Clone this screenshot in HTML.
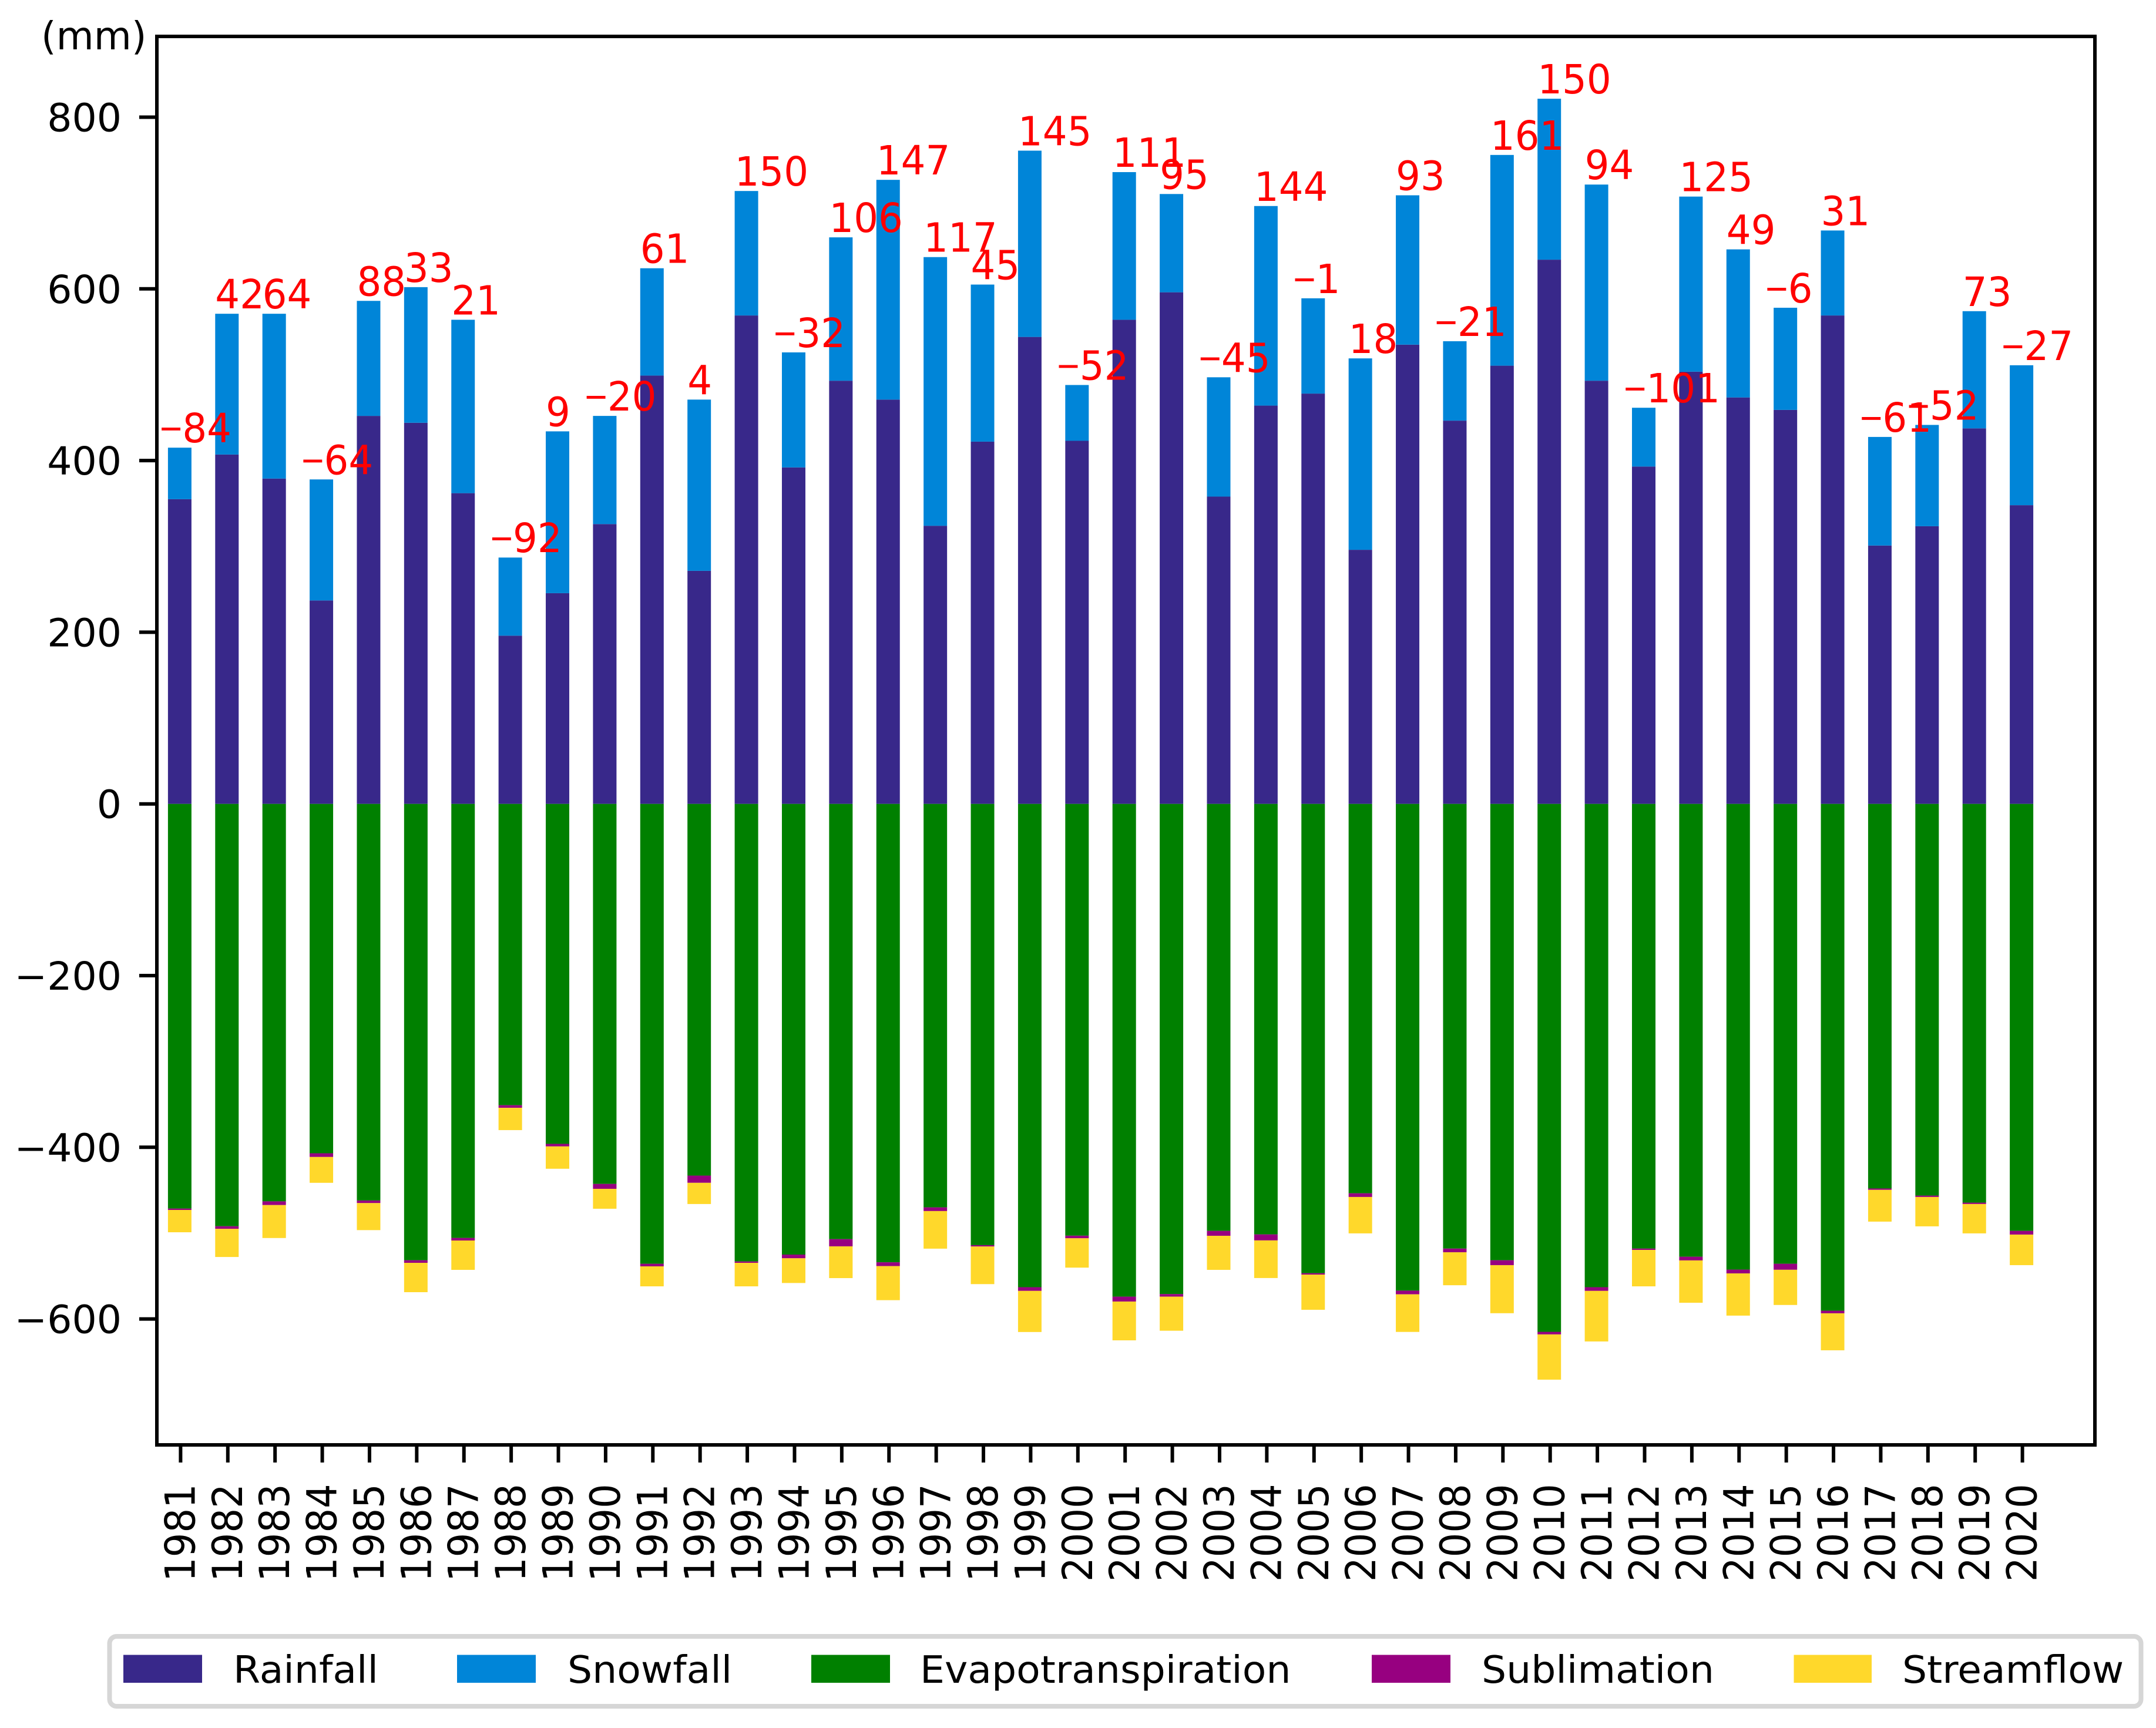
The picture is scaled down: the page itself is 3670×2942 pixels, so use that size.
<!DOCTYPE html>
<html lang="en">
<head>
<meta charset="utf-8">
<title>Annual water balance 1981-2020</title>
<style>
html,body{margin:0;padding:0;background:#fff;}
svg{display:block;}
text{font-family:"DejaVu Sans","Liberation Sans",sans-serif;}
</style>
</head>
<body>
<svg id="chart" xmlns="http://www.w3.org/2000/svg" width="3670" height="2942" viewBox="0 0 3670 2942">
  <rect x="0" y="0" width="3670" height="2942" fill="#ffffff"/>
  <g id="bars"></g>
  <g id="labels"></g>
  <g id="axes">
    <rect x="267" y="62" width="3299" height="2398" fill="none" stroke="#000" stroke-width="6"/>
    <text transform="translate(70,84) scale(1.02,1.02)" font-size="64.5" fill="#000">(mm)</text>
  </g>
  <g id="legend">
    <rect x="186.5" y="2786" width="3458" height="119" rx="12" ry="12" fill="#ffffff" stroke="#d6d6d6" stroke-width="8"/>
    <g>
      <rect x="210" y="2817.5" width="134" height="47.5" fill="#38288a"/>
      <text transform="translate(397,2865) scale(1.03,1)" font-size="64.5" fill="#000">Rainfall</text>
    </g>
    <g>
      <rect x="778" y="2817.5" width="134" height="47.5" fill="#0085d8"/>
      <text transform="translate(966,2865) scale(1.03,1)" font-size="64.5" fill="#000">Snowfall</text>
    </g>
    <g>
      <rect x="1381" y="2817.5" width="134" height="47.5" fill="#008000"/>
      <text transform="translate(1566,2865) scale(1.03,1)" font-size="64.5" fill="#000">Evapotranspiration</text>
    </g>
    <g>
      <rect x="2335" y="2817.5" width="134" height="47.5" fill="#970080"/>
      <text transform="translate(2522,2865) scale(1.03,1)" font-size="64.5" fill="#000">Sublimation</text>
    </g>
    <g>
      <rect x="3053.5" y="2817.5" width="132.5" height="47.5" fill="#ffd82b"/>
      <text transform="translate(3238,2865) scale(1.03,1)" font-size="64.5" fill="#000">Streamflow</text>
    </g>
  </g>
</svg>
<script>
const years = [1981,1982,1983,1984,1985,1986,1987,1988,1989,1990,1991,1992,1993,1994,1995,1996,1997,1998,1999,2000,2001,2002,2003,2004,2005,2006,2007,2008,2009,2010,2011,2012,2013,2014,2015,2016,2017,2018,2019,2020];
const rainfall = [355,407,379,237,452,444,362,196,245.5,326,499,271.5,569,392,493,471,324,422,544,423,564,596,358,464,478,296,535,446.5,510.5,634,493,393,503.5,473.5,459,569,301,323.5,437.5,348];
const snowfall = [60,164,192,141,134,158,202,91,188.5,126,125,199.5,145,134,167,256,313,183,217,65,172,114.5,139,232.5,111,223,174,92.5,245.5,187.5,228.5,68.5,204,172.5,119,99,126.5,118,136.5,163];
const evapotranspiration = [-471.4,-492,-463,-407,-462,-531.6,-505.6,-351,-396,-442.7,-535.7,-433,-533,-525,-507,-534,-470,-514,-563,-503,-574,-571,-497.4,-501.5,-546.7,-453.6,-567,-518,-531.6,-615,-563,-518,-527.5,-542.5,-535.7,-590.4,-448,-456.3,-464.5,-497.4];
const sublimation = [-1.6,-3,-4.3,-4.3,-3,-3,-3,-3,-3,-5.7,-3,-8.4,-1.6,-4.3,-8.4,-4.4,-4.3,-1.6,-4.3,-3,-5.7,-3,-5.7,-7,-1.6,-4.3,-4.3,-4.3,-5.7,-3,-4.3,-1.6,-4.3,-4.4,-7,-3,-1.6,-1.6,-1.6,-4.3];
const streamflow = [-26,-32.8,-38.4,-30.1,-31.5,-34.2,-34.2,-26,-26,-23.2,-23.3,-24.7,-27.4,-28.8,-37,-39.7,-43.8,-43.8,-47.9,-34.2,-45.2,-39.7,-39.7,-43.8,-41,-42.4,-43.8,-38.4,-56,-52.7,-58.9,-42.4,-49.3,-49.2,-41,-43.1,-37,-34.2,-34.2,-35.6];
const balance = [-84,42,64,-64,88,33,21,-92,9,-20,61,4,150,-32,106,147,117,45,145,-52,111,95,-45,144,-1,18,93,-21,161,150,94,-101,125,49,-6,31,-61,-52,73,-27];
const yTickValues = [800,600,400,200,0,-200,-400,-600];

const NS = 'http://www.w3.org/2000/svg';
function xScale(i){ return 307.4 + 80.39 * i; }
function yScale(v){ return 1368.7 - 1.4615 * v; }
function fmt(v){ return v < 0 ? '\u2212' + Math.abs(v) : String(v); }
function make(tag, parent, attrs){
  const el = document.createElementNS(NS, tag);
  for (const k in attrs) el.setAttribute(k, attrs[k]);
  parent.appendChild(el);
  return el;
}
const barsG = document.getElementById('bars');
const labelsG = document.getElementById('labels');
const axesG = document.getElementById('axes');
const BAR_W = 40;
const FRAME_BOTTOM = 2460;
const FRAME_LEFT = 267;

function drawSegment(i, from, to, color, seriesName){
  const top = Math.min(yScale(from), yScale(to));
  const h = Math.abs(yScale(from) - yScale(to));
  const r = make('rect', barsG, {x: xScale(i) - 1.5 - BAR_W / 2, y: top, width: BAR_W, height: h, fill: color});
  
  
}

years.forEach(function(year, i){
  const rain = rainfall[i];
  const total = rain + snowfall[i];
  drawSegment(i, 0, rain, '#38288a', 'rainfall');
  drawSegment(i, rain, total, '#0085d8', 'snowfall');
  const e = evapotranspiration[i];
  const s = e + sublimation[i];
  const q = s + streamflow[i];
  drawSegment(i, 0, e, '#008000', 'evapotranspiration');
  drawSegment(i, e, s, '#970080', 'sublimation');
  drawSegment(i, s, q, '#ffd82b', 'streamflow');

  const barLeft = xScale(i) - 1.5 - BAR_W / 2;
  const lx = balance[i] < 0 ? barLeft - 14 : barLeft;
  const ly = yScale(total) - 9;
  const label = make('text', labelsG, {transform: 'translate(' + lx + ',' + ly + ') scale(1.02,1.06)', 'font-size': 64.5, fill: '#ff0000'});
  if (balance[i] < 0) {
    const minus = make('tspan', label, {'font-family': '"Liberation Sans", sans-serif'});
    minus.textContent = '\u2212';
  }
  const digits = make('tspan', label, {});
  digits.textContent = String(Math.abs(balance[i]));
  
  

  const tick = make('line', axesG, {x1: xScale(i), x2: xScale(i), y1: FRAME_BOTTOM, y2: FRAME_BOTTOM + 30, stroke: '#000', 'stroke-width': 6});
  
  

  const tl = make('text', axesG, {transform: 'translate(' + (xScale(i) + 24) + ',2693) rotate(-90) scale(1,1.07)', 'font-size': 65.5, fill: '#000'});
  tl.textContent = String(year);
  
  
});

yTickValues.forEach(function(v){
  const y = yScale(v);
  const tick = make('line', axesG, {x1: FRAME_LEFT - 30, x2: FRAME_LEFT, y1: y, y2: y, stroke: '#000', 'stroke-width': 6});
  
  
  const tl = make('text', axesG, {transform: 'translate(207,' + (y + 24) + ') scale(1.03,1.02)', 'font-size': 64.5, fill: '#000', 'text-anchor': 'end'});
  tl.textContent = fmt(v);
  
  
});
</script>
</body>
</html>
